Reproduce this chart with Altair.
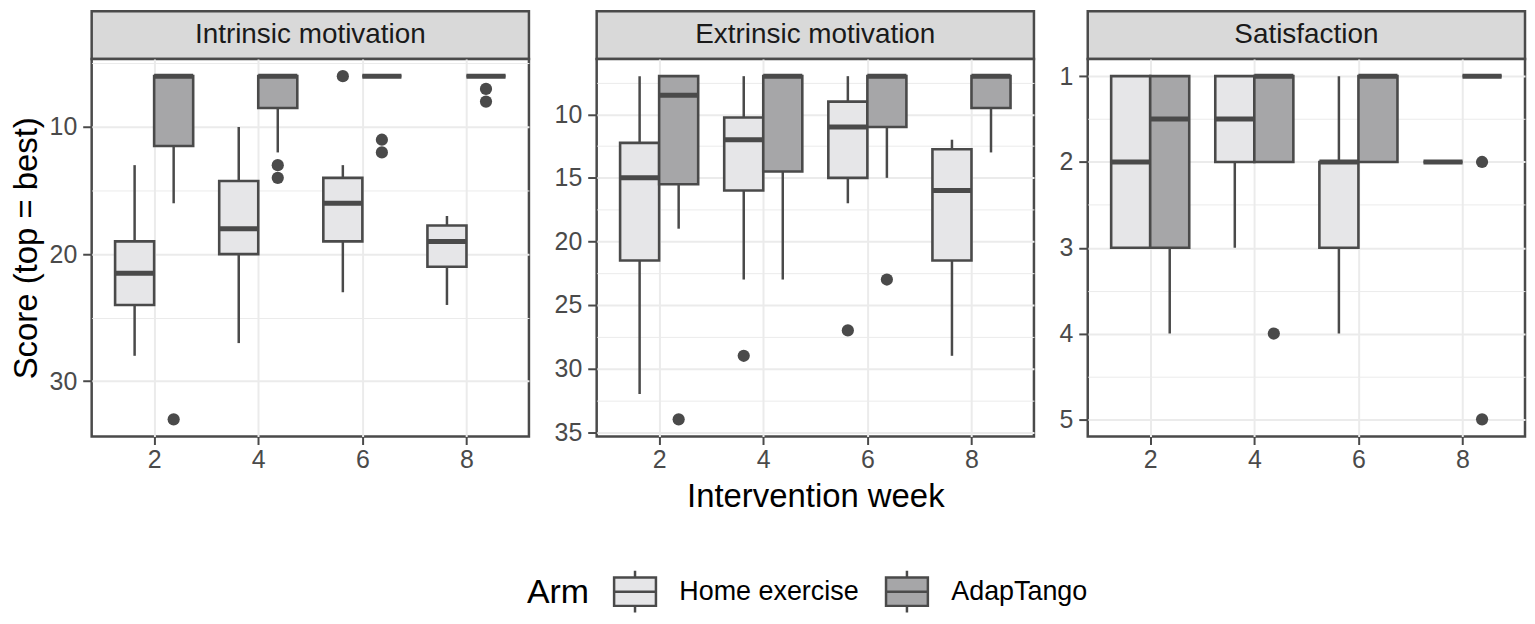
import json
import altair as alt
import pandas as pd

# Categories
weeks = [2, 4, 6, 8]
arms = ["Home exercise", "AdapTango"]
panels = ["Intrinsic motivation", "Extrinsic motivation", "Satisfaction"]

# Box summaries, one list per arm (Home exercise, AdapTango), one value per week.
# lo = upper whisker end (best), hi = lower whisker end (worst)
intr_lo = [[13, 10, 13, 17], [6, 6, 6, 6]]
intr_q1 = [[19, 14.25, 14, 17.75], [6, 6, 6, 6]]
intr_med = [[21.5, 18, 16, 19], [6, 6, 6, 6]]
intr_q3 = [[24, 20, 19, 21], [11.5, 8.5, 6, 6]]
intr_hi = [[28, 27, 23, 24], [16, 12, 6, 6]]
intr_out_week = [6, 2, 4, 4, 6, 6, 8, 8]
intr_out_arm = [0, 1, 1, 1, 1, 1, 1, 1]
intr_out_val = [6, 33, 13, 14, 11, 12, 7, 8]

extr_lo = [[7, 7, 7, 12], [7, 7, 7, 7]]
extr_q1 = [[12.25, 10.25, 9, 12.75], [7, 7, 7, 7]]
extr_med = [[15, 12, 11, 16], [8.5, 7, 7, 7]]
extr_q3 = [[21.5, 16, 15, 21.5], [15.5, 14.5, 11, 9.5]]
extr_hi = [[32, 23, 17, 29], [19, 23, 15, 13]]
extr_out_week = [4, 6, 2, 6]
extr_out_arm = [0, 0, 1, 1]
extr_out_val = [29, 27, 34, 23]

sat_lo = [[1, 1, 1, 2], [1, 1, 1, 1]]
sat_q1 = [[1, 1, 2, 2], [1, 1, 1, 1]]
sat_med = [[2, 1.5, 2, 2], [1.5, 1, 1, 1]]
sat_q3 = [[3, 2, 3, 2], [3, 2, 2, 1]]
sat_hi = [[3, 3, 4, 2], [4, 2, 2, 1]]
sat_out_week = [4, 8, 8]
sat_out_arm = [1, 1, 1]
sat_out_val = [4, 2, 5]

# Axis breaks
intr_major, intr_minor = [10, 20, 30], [5, 15, 25]
extr_major, extr_minor = [10, 15, 20, 25, 30, 35], [7.5, 12.5, 17.5, 22.5, 27.5, 32.5]
sat_major, sat_minor = [1, 2, 3, 4, 5], [1.5, 2.5, 3.5, 4.5]

# Styling
FONT = "Liberation Sans"
DARK = "#4a4a4a"
GRID = "#ebebeb"
FILLS = ["#e6e6e8", "#a6a6a8"]
W, H, STRIP_H = 439, 379, 48
DODGE = 0.75
BOX_PATH = "M-1,-0.68H1V0.68H-1Z M-1,0H1 M0,-0.68V-1 M0,0.68V1"


def box_table(lo, q1, med, q3, hi):
    rows = []
    for a, arm in enumerate(arms):
        for i, wk in enumerate(weeks):
            left = wk - DODGE + a * DODGE
            rows.append({"arm": arm, "week": wk, "xl": left, "xr": left + DODGE,
                         "xc": left + DODGE / 2, "lo": lo[a][i], "q1": q1[a][i],
                         "med": med[a][i], "q3": q3[a][i], "hi": hi[a][i]})
    return pd.DataFrame(rows)


def out_table(wk, arm_idx, val):
    xc = [w - DODGE + a * DODGE + DODGE / 2 for w, a in zip(wk, arm_idx)]
    return pd.DataFrame({"xc": xc, "val": val, "arm": [arms[a] for a in arm_idx]})


def panel(name, boxes, outs, major, minor, ytitle, xtitle):
    allv = list(boxes["lo"]) + list(boxes["hi"]) + list(outs["val"])
    lo, hi = min(allv), max(allv)
    pad = 0.05 * (hi - lo)
    ys = alt.Scale(domain=[lo - pad, hi + pad], reverse=True, nice=False, zero=False)
    xs = alt.Scale(domain=[0.8, 9.2], nice=False, zero=False)
    test = "indexof(%s, datum.value) >= 0" % json.dumps(major)
    yax = alt.Axis(values=sorted(major + minor), title=ytitle,
                   labelExpr=f"{test} ? toString(datum.value) : ''",
                   grid=True, gridColor=GRID,
                   gridWidth={"condition": {"test": test, "value": 2}, "value": 1},
                   tickOpacity={"condition": {"test": test, "value": 1}, "value": 0},
                   domain=False, tickSize=9, tickWidth=2, tickColor=DARK,
                   labelPadding=6, labelFontSize=25, labelColor=DARK, labelOverlap=False,
                   titleFontSize=33, titleFontWeight="normal", titleColor="black", titlePadding=6)
    xax = alt.Axis(values=weeks, title=xtitle, grid=True, gridColor=GRID, gridWidth=2,
                   domain=False, tickSize=8, tickWidth=2, tickColor=DARK,
                   labelPadding=3, labelFontSize=25, labelColor=DARK, labelFlush=False,
                   labelOverlap=False, titleFontSize=33, titleFontWeight="normal",
                   titleColor="black", titlePadding=8)
    color = alt.Color("arm:N", scale=alt.Scale(domain=arms, range=FILLS),
                      legend=alt.Legend(title="Arm", orient="none", legendX=437, legendY=560,
                                        direction="horizontal", titleOrient="left",
                                        titleFontSize=34, titleFontWeight="normal",
                                        titleColor="black", titlePadding=23,
                                        labelFontSize=27, labelColor="black", labelOffset=22,
                                        labelLimit=400, columnPadding=21,
                                        symbolType=BOX_PATH, symbolSize=1764,
                                        symbolStrokeColor=DARK, symbolStrokeWidth=2.5,
                                        symbolOpacity=1))

    base = alt.Chart(boxes)
    whisk = base.mark_rule(color=DARK, strokeWidth=2.5).encode(
        x=alt.X("xc:Q", scale=xs, axis=xax), y=alt.Y("lo:Q", scale=ys, axis=yax), y2="hi:Q")
    box = base.mark_rect(stroke=DARK, strokeWidth=2.6, opacity=1).encode(
        x=alt.X("xl:Q", scale=xs, axis=xax), x2="xr:Q",
        y=alt.Y("q1:Q", scale=ys, axis=yax), y2="q3:Q", color=color)
    med = base.mark_rule(color=DARK, strokeWidth=5).encode(
        x=alt.X("xl:Q", scale=xs, axis=xax), x2="xr:Q", y=alt.Y("med:Q", scale=ys, axis=yax))
    pts = alt.Chart(outs).mark_circle(size=150, color=DARK, opacity=1).encode(
        x=alt.X("xc:Q", scale=xs, axis=xax), y=alt.Y("val:Q", scale=ys, axis=yax))

    plot = alt.layer(whisk, box, med, pts).properties(
        width=W, height=H, view=alt.ViewBackground(fill="white", stroke=DARK, strokeWidth=2.5))

    strip = alt.Chart(pd.DataFrame({"panel": [name]})).mark_text(
        font=FONT, fontSize=28, color="#1a1a1a", baseline="middle", align="center").encode(
        text="panel:N", x=alt.value(W / 2), y=alt.value(STRIP_H / 2)).properties(
        width=W, height=STRIP_H,
        view=alt.ViewBackground(fill="#d9d9d9", stroke=DARK, strokeWidth=2.5))

    return alt.vconcat(strip, plot, spacing=0, bounds="flush")


p1 = panel(panels[0], box_table(intr_lo, intr_q1, intr_med, intr_q3, intr_hi),
           out_table(intr_out_week, intr_out_arm, intr_out_val),
           intr_major, intr_minor, "Score (top = best)", None)
p2 = panel(panels[1], box_table(extr_lo, extr_q1, extr_med, extr_q3, extr_hi),
           out_table(extr_out_week, extr_out_arm, extr_out_val),
           extr_major, extr_minor, None, "Intervention week")
p3 = panel(panels[2], box_table(sat_lo, sat_q1, sat_med, sat_q3, sat_hi),
           out_table(sat_out_week, sat_out_arm, sat_out_val),
           sat_major, sat_minor, None, None)

chart = alt.hconcat(p1, p2, p3, spacing=21).properties(
    padding={"left": 0, "top": 0, "right": 0, "bottom": 0}
).configure(font=FONT).configure_view(stroke=DARK)

chart.save("out.html", embed_options={"renderer": "svg", "actions": False})
